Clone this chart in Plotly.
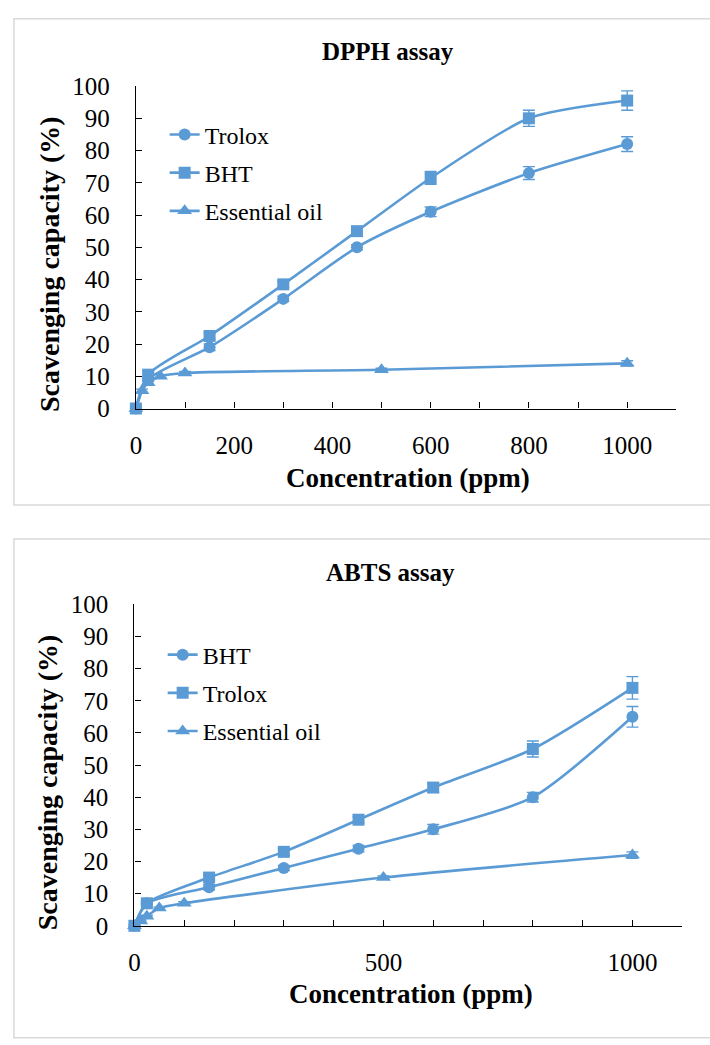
import plotly.graph_objects as go

# ---------------- data ----------------
conc_std = [0, 25, 150, 300, 450, 600, 800, 1000]
conc_oil = [0, 12.5, 25, 50, 100, 500, 1000]

# DPPH assay
dpph_trolox = [0, 9, 19, 34, 50, 61, 73, 82]
dpph_trolox_err = [0, 0.5, 1, 0.8, 0.8, 1.5, 2, 2.3]
dpph_bht = [0, 10.5, 22.5, 38.5, 55, 71.5, 90, 95.5]
dpph_bht_err = [0, 1, 1, 1, 1, 2, 2.5, 3]
dpph_oil = [0, 5.5, 8, 10, 11, 12, 14]
dpph_oil_err = [0, 0.5, 0.5, 0.5, 0.5, 0.5, 0.8]

# ABTS assay
abts_bht = [0, 7, 12, 18, 24, 30, 40, 65]
abts_bht_err = [0, 0.5, 0.8, 0.8, 1, 1.5, 1.5, 3.2]
abts_trolox = [0, 7, 15, 23, 33, 43, 55, 74]
abts_trolox_err = [0, 0.5, 0.8, 1, 1, 1.5, 2.5, 3.5]
abts_oil = [0, 1.5, 3, 5.5, 7, 15, 22]
abts_oil_err = [0, 0.3, 0.3, 0.3, 0.5, 0.5, 1]

x_ticks = list(range(0, 1101, 100))
top_ticktext = [str(v) if v % 200 == 0 and v <= 1000 else "" for v in x_ticks]
bot_ticktext = [str(v) if v % 500 == 0 else "" for v in x_ticks]
y_ticks = list(range(0, 101, 10))

BLUE = "#5B9BD5"
FONT = "Liberation Serif"
W, H = 710, 1045

fig = go.Figure()


def add(x, y, err, name, symbol, size, xa, ya, legend, group):
    fig.add_trace(go.Scatter(
        x=x, y=y, name=name, mode="lines+markers",
        line=dict(color=BLUE, width=2.6, shape="spline", smoothing=0.7),
        marker=dict(symbol=symbol, size=size, color=BLUE),
        error_y=dict(type="data", array=err, visible=True, color=BLUE,
                     thickness=1.4, width=6),
        xaxis=xa, yaxis=ya, legend=legend, legendgroup=group,
        cliponaxis=False,
    ))


add(conc_std, dpph_trolox, dpph_trolox_err, "Trolox", "circle", 12, "x", "y", "legend", "a1")
add(conc_std, dpph_bht, dpph_bht_err, "BHT", "square", 12, "x", "y", "legend", "a2")
add(conc_oil, dpph_oil, dpph_oil_err, "Essential oil", "triangle-up", 13, "x", "y", "legend", "a3")

add(conc_std, abts_bht, abts_bht_err, "BHT", "circle", 12, "x2", "y2", "legend2", "b1")
add(conc_std, abts_trolox, abts_trolox_err, "Trolox", "square", 12, "x2", "y2", "legend2", "b2")
add(conc_oil, abts_oil, abts_oil_err, "Essential oil", "triangle-up", 13, "x2", "y2", "legend2", "b3")


def px_x(p):
    return p / W


def px_y(p):
    return 1 - p / H


axis_common = dict(showline=True, linecolor="black", linewidth=1.3,
                   ticks="inside", ticklen=6, tickcolor="black", tickwidth=1.3,
                   showgrid=False, zeroline=False,
                   tickfont=dict(family=FONT, size=25, color="black"))

TF = dict(family=FONT, size=27, color="black")
YTF = dict(family=FONT, size=28, color="black")

fig.update_layout(
    width=W, height=H,
    margin=dict(l=0, r=0, t=0, b=0),
    paper_bgcolor="white", plot_bgcolor="white",
    showlegend=True,
    xaxis=dict(domain=[px_x(131), px_x(676)], range=[0, 1100], anchor="y",
               tickmode="array", tickvals=x_ticks, ticktext=top_ticktext,
               ticklabelstandoff=14, **axis_common),
    yaxis=dict(domain=[px_y(406), px_y(75)], range=[0, 100], anchor="x",
               tickmode="array", tickvals=y_ticks,
               ticklabelstandoff=20, **axis_common),
    xaxis2=dict(domain=[px_x(129.5), px_x(682)], range=[0, 1100], anchor="y2",
                tickmode="array", tickvals=x_ticks, ticktext=bot_ticktext,
                ticklabelstandoff=14, **axis_common),
    yaxis2=dict(domain=[px_y(937), px_y(607)], range=[0, 100], anchor="x2",
                tickmode="array", tickvals=y_ticks,
                ticklabelstandoff=20, **axis_common),
    legend=dict(x=px_x(160), y=px_y(102), xanchor="left", yanchor="top",
                bgcolor="rgba(0,0,0,0)", tracegroupgap=4,
                font=dict(family=FONT, size=24, color="black")),
    legend2=dict(x=px_x(158), y=px_y(636), xanchor="left", yanchor="top",
                 bgcolor="rgba(0,0,0,0)", tracegroupgap=4,
                 font=dict(family=FONT, size=24, color="black")),
    shapes=[
        dict(type="rect", xref="paper", yref="paper",
             x0=px_x(8), x1=px_x(715), y0=px_y(505), y1=px_y(6),
             line=dict(color="#d9d9d9", width=1.5), layer="below"),
        dict(type="rect", xref="paper", yref="paper",
             x0=px_x(8), x1=px_x(715), y0=px_y(1052), y1=px_y(540),
             line=dict(color="#d9d9d9", width=1.5), layer="below"),
    ],
    annotations=[
        dict(text="<b>DPPH assay</b>", x=px_x(385), y=px_y(40), xref="paper", yref="paper",
             showarrow=False, xanchor="center", yanchor="middle",
             font=dict(family=FONT, size=25, color="black")),
        dict(text="<b>ABTS assay</b>", x=px_x(388), y=px_y(574), xref="paper", yref="paper",
             showarrow=False, xanchor="center", yanchor="middle",
             font=dict(family=FONT, size=25, color="black")),
        dict(text="<b>Concentration (ppm)</b>", x=px_x(405), y=px_y(477), xref="paper", yref="paper",
             showarrow=False, xanchor="center", yanchor="middle", font=TF),
        dict(text="<b>Concentration (ppm)</b>", x=px_x(408), y=px_y(1007), xref="paper", yref="paper",
             showarrow=False, xanchor="center", yanchor="middle", font=TF),
        dict(text="<b>Scavenging capacity (%)</b>", x=px_x(44), y=px_y(258), xref="paper", yref="paper",
             showarrow=False, xanchor="center", yanchor="middle", textangle=-90, font=YTF),
        dict(text="<b>Scavenging capacity (%)</b>", x=px_x(42), y=px_y(790), xref="paper", yref="paper",
             showarrow=False, xanchor="center", yanchor="middle", textangle=-90, font=YTF),
    ],
)

fig.write_html("out.html", config={"displayModeBar": False},
               post_script="document.body.style.margin='0px';document.body.style.overflow='hidden';")
